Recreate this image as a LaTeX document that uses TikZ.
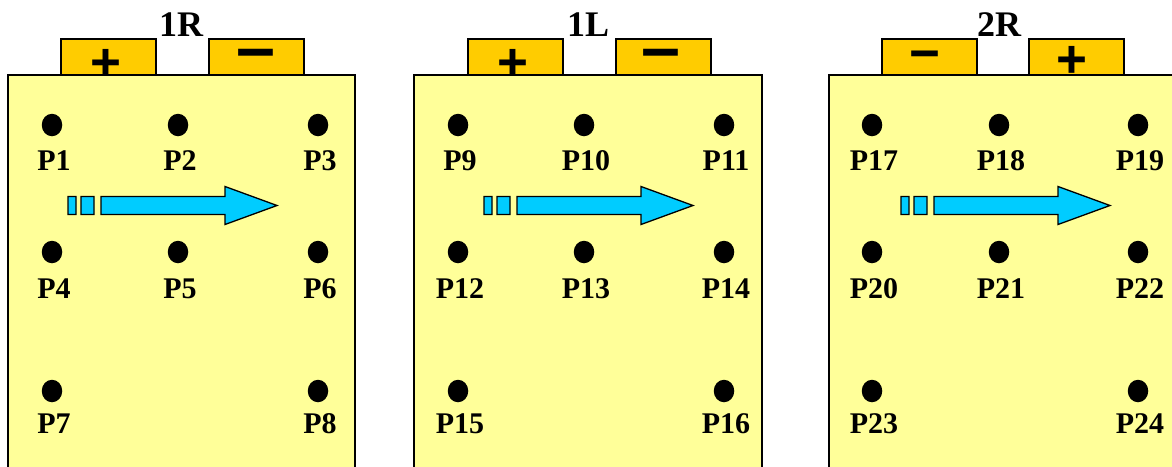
\documentclass[tikz,border=0pt]{standalone}
\usepackage{fontspec}
\setmainfont{Liberation Serif}
\newfontfamily\signfont{Liberation Sans}
\usepackage{tikz}
\usetikzlibrary{shapes.geometric}
\definecolor{cellyellow}{HTML}{FFFF99}
\definecolor{tabgold}{HTML}{FFCC00}
\definecolor{flowcyan}{HTML}{00CCFF}
\tikzset{
  px/.style={x=1pt, y=-1pt},
  b body/.style={draw=black, line width=2.6pt, fill=cellyellow},
  b tab/.style={draw=black, line width=1.4pt, fill=tabgold, minimum width=95pt, minimum height=36pt, inner sep=0pt},
  b plus/.style={inner sep=0pt, font=\signfont\bfseries\fontsize{53}{53}\selectfont},
  b minus/.style={inner sep=0pt, font=\signfont\bfseries\fontsize{70}{70}\selectfont},
  b name/.style={inner sep=0pt, font=\bfseries\fontsize{36}{36}\selectfont},
  b dot/.style={ellipse, fill=black, inner sep=0pt, minimum width=20.5pt, minimum height=22.5pt},
  b lbl/.style={inner sep=0pt, xshift=2pt, font=\bfseries\fontsize{30}{30}\selectfont},
  b flow/.style={draw=black, line width=1.3pt, fill=flowcyan, line join=miter},
}

\begin{document}
\begin{tikzpicture}[px]
\useasboundingbox (0,0) rectangle (1172,466);
\clip (0,0) rectangle (1172,466);
% terminals
\node[b tab] (t1a) at (108.5,57) {}; \node[b tab] (t1b) at (256.5,57) {};
\node[b tab] (t2a) at (515.5,57) {}; \node[b tab] (t2b) at (663.5,57) {};
\node[b tab] (t3a) at (929.5,57) {}; \node[b tab] (t3b) at (1076.5,57) {};
% cells
\draw[b body] (8,75) rectangle (355,520);
\draw[b body] (414,75) rectangle (762,520);
\draw[b body] (829,75) rectangle (1240,520);
\node[b plus] (s1a) at (106,64.5) {+}; \node[b minus] (s1b) at (255.5,60.5) {–};
\node[b plus] (s2a) at (513,64.5) {+}; \node[b minus] (s2b) at (661,60.5) {–};
\node[b plus] (s3a) at (925,61) {−}; \node[b plus] (s3b) at (1072,62) {+};
\node[b name] (n1) at (181,25) {1R};
\node[b name] (n2) at (588,25) {1L};
\node[b name] (n3) at (999,25) {2R};
% flow arrows
\draw[b flow, shift={(68,0)}] (0,196.5) rectangle (8,214.5) (13,196.5) rectangle (26,214.5) (33,196.5) -- (157,196.5) -- (157,186.5) -- (209,205.5) -- (157,224.5) -- (157,214.5) -- (33,214.5) -- cycle;
\draw[b flow, shift={(484,0)}] (0,196.5) rectangle (8,214.5) (13,196.5) rectangle (26,214.5) (33,196.5) -- (157,196.5) -- (157,186.5) -- (209,205.5) -- (157,224.5) -- (157,214.5) -- (33,214.5) -- cycle;
\draw[b flow, shift={(901,0)}] (0,196.5) rectangle (8,214.5) (13,196.5) rectangle (26,214.5) (33,196.5) -- (157,196.5) -- (157,186.5) -- (209,205.5) -- (157,224.5) -- (157,214.5) -- (33,214.5) -- cycle;
% points, cell 1R
\node[b dot] (p1) at (52,125) {}; \node[b dot] (p2) at (178,125) {}; \node[b dot] (p3) at (318,125) {};
\node[b dot] (p4) at (52,252) {}; \node[b dot] (p5) at (178,252) {}; \node[b dot] (p6) at (318,252) {};
\node[b dot] (p7) at (52,391) {}; \node[b dot] (p8) at (318,391) {};
\node[b lbl] (l1) at (52,161) {P1}; \node[b lbl] (l2) at (178,161) {P2}; \node[b lbl] (l3) at (318,161) {P3};
\node[b lbl] (l4) at (52,289) {P4}; \node[b lbl] (l5) at (178,289) {P5}; \node[b lbl] (l6) at (318,289) {P6};
\node[b lbl] (l7) at (52,423.5) {P7}; \node[b lbl] (l8) at (318,423.5) {P8};
% points, cell 1L
\node[b dot] (p9) at (458,125) {}; \node[b dot] (p10) at (584,125) {}; \node[b dot] (p11) at (724,125) {};
\node[b dot] (p12) at (458,252) {}; \node[b dot] (p13) at (584,252) {}; \node[b dot] (p14) at (724,252) {};
\node[b dot] (p15) at (458,391) {}; \node[b dot] (p16) at (724,391) {};
\node[b lbl] (l9) at (458,161) {P9}; \node[b lbl] (l10) at (584,161) {P10}; \node[b lbl] (l11) at (724,161) {P11};
\node[b lbl] (l12) at (458,289) {P12}; \node[b lbl] (l13) at (584,289) {P13}; \node[b lbl] (l14) at (724,289) {P14};
\node[b lbl] (l15) at (458,423.5) {P15}; \node[b lbl] (l16) at (724,423.5) {P16};
% points, cell 2R
\node[b dot] (p17) at (872,125) {}; \node[b dot] (p18) at (999,125) {}; \node[b dot] (p19) at (1138,125) {};
\node[b dot] (p20) at (872,252) {}; \node[b dot] (p21) at (999,252) {}; \node[b dot] (p22) at (1138,252) {};
\node[b dot] (p23) at (872,391) {}; \node[b dot] (p24) at (1138,391) {};
\node[b lbl] (l17) at (872,161) {P17}; \node[b lbl] (l18) at (999,161) {P18}; \node[b lbl] (l19) at (1138,161) {P19};
\node[b lbl] (l20) at (872,289) {P20}; \node[b lbl] (l21) at (999,289) {P21}; \node[b lbl] (l22) at (1138,289) {P22};
\node[b lbl] (l23) at (872,423.5) {P23}; \node[b lbl] (l24) at (1138,423.5) {P24};
\end{tikzpicture}
\end{document}
